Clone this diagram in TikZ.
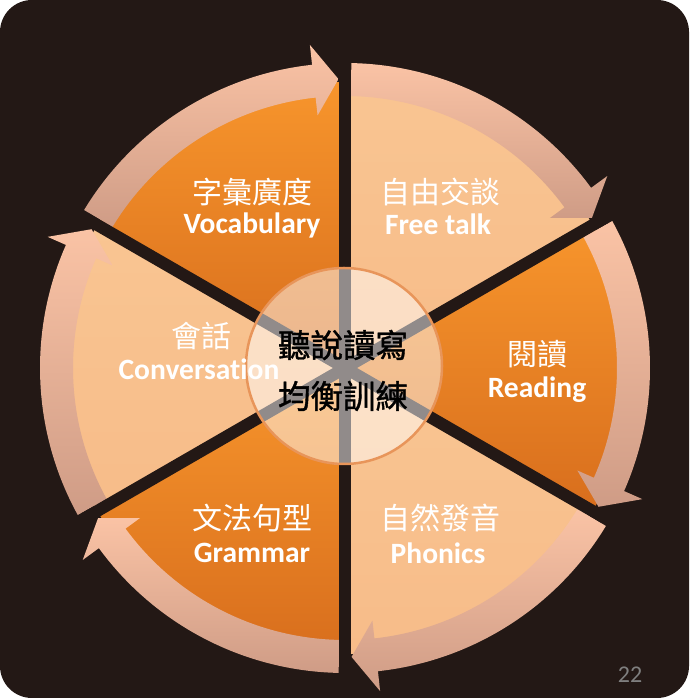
\documentclass[tikz,border=0pt]{standalone}
\usepackage{fontspec}
\newfontfamily\cjkfont{Noto Sans CJK TC}
\newfontfamily\cjkhubfont[FakeBold=1.2]{Noto Sans CJK TC}
\newfontfamily\latinfont[Ligatures=NoCommon]{Carlito}
\definecolor{bgdark}{HTML}{231815}
\definecolor{orangetop}{HTML}{F7952C}
\definecolor{orangebot}{HTML}{D86E1D}
\definecolor{peachtop}{HTML}{F9C592}
\definecolor{peachbot}{HTML}{F7BC89}
\definecolor{bandlight}{HTML}{FAC3A5}
\definecolor{banddark}{HTML}{CF9C86}
\definecolor{hubring}{HTML}{E8955A}
\definecolor{pagegray}{HTML}{7F7F7F}
\begin{document}
\begin{tikzpicture}[x=1pt, y=1pt,
	zhlabel/.style={white, font=\cjkfont\fontsize{30}{31}\selectfont},
	enlabel/.style={white, font=\latinfont\bfseries\fontsize{29.5}{31}\selectfont},
	hublabel/.style={black, font=\cjkhubfont\fontsize{32.5}{33}\selectfont},
	darkslice/.style={top color=orangetop, bottom color=orangebot},
	lightslice/.style={top color=peachtop, bottom color=peachbot},
	band/.style={top color=bandlight, middle color=bandlight!70!banddark, bottom color=banddark},
	divider/.style={bgdark, line width=12pt}]
	% page and dark card
	\fill[white] (0,0) rectangle (693,700);
	\fill[bgdark, rounded corners=32pt] (0,2) rectangle (689,700);
	\useasboundingbox (0,0) rectangle (693,700);
	\begin{scope}[shift={(345,332)}]
		% six slices
		\shade[darkslice] (0,0) -- (90:286pt) arc[start angle=90, end angle=150, radius=286pt] -- cycle;
		\shade[lightslice] (0,0) -- (30:286pt) arc[start angle=30, end angle=90, radius=286pt] -- cycle;
		\shade[darkslice] (0,0) -- (-30:286pt) arc[start angle=-30, end angle=30, radius=286pt] -- cycle;
		\shade[lightslice] (0,0) -- (-90:286pt) arc[start angle=-90, end angle=-30, radius=286pt] -- cycle;
		\shade[darkslice] (0,0) -- (-150:286pt) arc[start angle=-150, end angle=-90, radius=286pt] -- cycle;
		\shade[lightslice] (0,0) -- (150:286pt) arc[start angle=150, end angle=210, radius=286pt] -- cycle;
		% curved arrows, clockwise
		\shade[band] (148.8:305pt) arc[start angle=148.8, end angle=96.2, radius=305pt] -- (96.2:325pt) -- (91.3:289pt) -- (96.2:254pt) -- (96.2:272pt) arc[start angle=96.2, end angle=148.8, radius=272pt] -- cycle;
		\shade[band] (88.8:305pt) arc[start angle=88.8, end angle=36.2, radius=305pt] -- (36.2:325pt) -- (31.3:289pt) -- (36.2:254pt) -- (36.2:272pt) arc[start angle=36.2, end angle=88.8, radius=272pt] -- cycle;
		\shade[band] (28.8:305pt) arc[start angle=28.8, end angle=-23.8, radius=305pt] -- (-23.8:325pt) -- (-28.7:289pt) -- (-23.8:254pt) -- (-23.8:272pt) arc[start angle=-23.8, end angle=28.8, radius=272pt] -- cycle;
		\shade[band] (-31.2:305pt) arc[start angle=-31.2, end angle=-83.8, radius=305pt] -- (-83.8:325pt) -- (-88.7:289pt) -- (-83.8:254pt) -- (-83.8:272pt) arc[start angle=-83.8, end angle=-31.2, radius=272pt] -- cycle;
		\shade[band] (-91.2:305pt) arc[start angle=-91.2, end angle=-143.8, radius=305pt] -- (-143.8:325pt) -- (-148.7:289pt) -- (-143.8:254pt) -- (-143.8:272pt) arc[start angle=-143.8, end angle=-91.2, radius=272pt] -- cycle;
		\shade[band] (208.8:305pt) arc[start angle=208.8, end angle=156.2, radius=305pt] -- (156.2:325pt) -- (151.3:289pt) -- (156.2:254pt) -- (156.2:272pt) arc[start angle=156.2, end angle=208.8, radius=272pt] -- cycle;
		% gaps between slices
		\draw[divider] (90:300pt) -- (-90:300pt);
		\draw[divider] (30:300pt) -- (210:300pt);
		\draw[divider] (150:300pt) -- (-30:300pt);
		% hub
		\node (hub) at (-1,2)[circle, minimum size=196pt, inner sep=0pt, fill=white, fill opacity=0.5, draw=hubring, draw opacity=1, line width=2.5pt]{};
	\end{scope}
	% labels
	\node (voczh) at (252,508)[zhlabel]{字彙廣度};
	\node (vocen) at (252,475)[enlabel]{Vocabulary};
	\node (freezh) at (440,508)[zhlabel]{自由交談};
	\node (freeen) at (438,476)[enlabel]{Free talk};
	\node (readzh) at (537,346)[zhlabel]{閱讀};
	\node (readen) at (537,310)[enlabel]{Reading};
	\node (phonzh) at (440,182)[zhlabel]{自然發音};
	\node (phonen) at (438,147)[enlabel]{Phonics};
	\node (gramzh) at (252,182)[zhlabel]{文法句型};
	\node (gramen) at (252,147)[enlabel]{Grammar};
	\node (convzh) at (201,364)[zhlabel]{會話};
	\node (conven) at (199,331)[enlabel]{Conversation};
	\node (hubtop) at (343,355)[hublabel]{聽說讀寫};
	\node (hubbot) at (343,304)[hublabel]{均衡訓練};
	\node (pageno) at (630,25)[pagegray, font=\latinfont\fontsize{24}{26}\selectfont]{22};
\end{tikzpicture}
\end{document}
